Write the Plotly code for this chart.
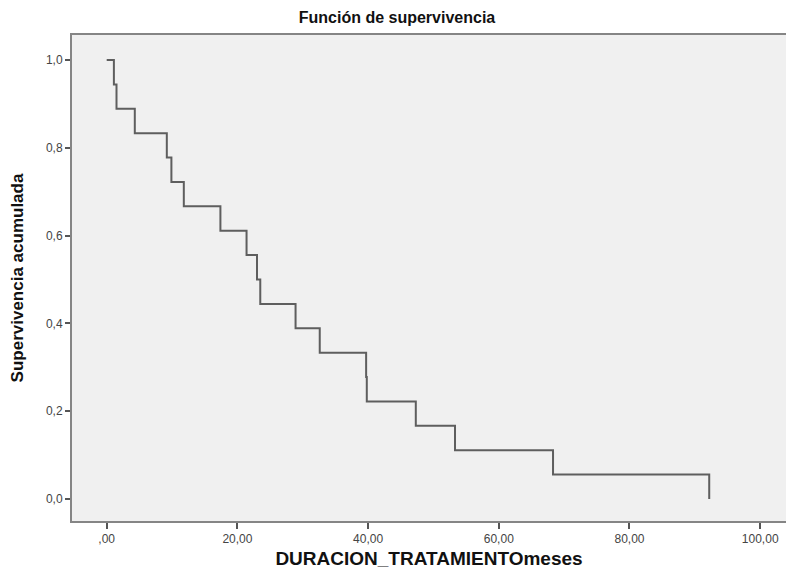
import plotly.graph_objects as go

# Kaplan-Meier step data
tiempo = [0.0, 1.1, 1.5, 4.3, 9.2, 9.9, 11.8, 17.4, 21.4, 23.0, 23.5,
          28.9, 32.6, 39.7, 39.8, 47.3, 53.3, 68.3, 92.2]
supervivencia = [1.0, 0.944, 0.889, 0.833, 0.778, 0.722, 0.667, 0.611, 0.556,
                 0.5, 0.444, 0.389, 0.333, 0.278, 0.222, 0.167, 0.111, 0.056, 0.0]

x_tickvals = [0, 20, 40, 60, 80, 100]
x_ticktext = [",00", "20,00", "40,00", "60,00", "80,00", "100,00"]
y_tickvals = [0.0, 0.2, 0.4, 0.6, 0.8, 1.0]
y_ticktext = ["0,0", "0,2", "0,4", "0,6", "0,8", "1,0"]

fig = go.Figure()
fig.add_trace(go.Scatter(
    x=tiempo, y=supervivencia, mode="lines",
    line=dict(shape="hv", color="#5e5e5e", width=2),
    showlegend=False, hoverinfo="x+y",
))

font_family = "Liberation Sans, Arial, sans-serif"
fig.update_layout(
    width=778, height=561,
    margin=dict(l=64, r=0, t=27, b=48, autoexpand=False),
    paper_bgcolor="white",
    plot_bgcolor="#f0f0f0",
    font=dict(family=font_family, color="#333333"),
    title=dict(text="<b>Función de supervivencia</b>", x=0.5, xanchor="center",
               y=0.984, yanchor="middle", font=dict(size=16, color="#111111")),
)
fig.update_xaxes(
    range=[-5.31, 103.95], tickvals=x_tickvals, ticktext=x_ticktext,
    showgrid=False, zeroline=False, automargin=False,
    showline=True, linecolor="#858585", linewidth=2, mirror=True,
    ticks="outside", ticklen=6, tickcolor="#555555", tickwidth=2,
    tickfont=dict(size=12, color="#444444"),
    title=dict(text="<b>DURACION_TRATAMIENTOmeses</b>", standoff=10,
               font=dict(size=19, color="#111111")),
)
fig.update_yaxes(
    range=[-0.0501, 1.057], tickvals=y_tickvals, ticktext=y_ticktext,
    showgrid=False, zeroline=False, automargin=False,
    showline=True, linecolor="#858585", linewidth=2, mirror=False,
    ticks="outside", ticklen=5, tickcolor="#555555", tickwidth=2,
    tickfont=dict(size=12, color="#444444"),
    title=dict(text="<b>Supervivencia acumulada</b>", standoff=18,
               font=dict(size=17, color="#111111")),
)

fig.write_html("out.html")
